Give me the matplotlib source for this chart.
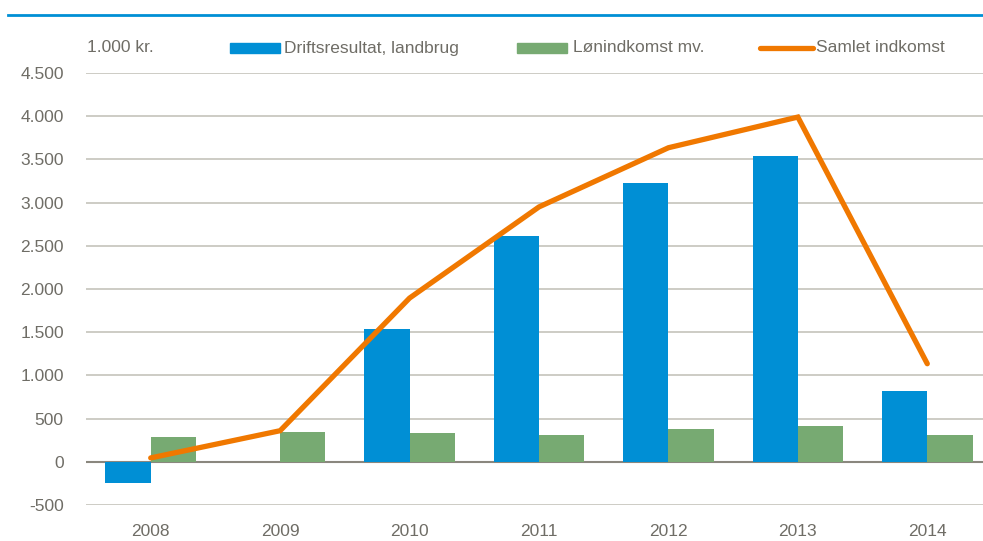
import matplotlib
matplotlib.use("Agg")
import matplotlib.pyplot as plt
from matplotlib.lines import Line2D
from matplotlib.patches import Rectangle

# ─── data (1.000 kr.) ─────────────────────────────────────────────
years      = ["2008", "2009", "2010", "2011", "2012", "2013", "2014"]
drift      = [-240, 0, 1540, 2615, 3230, 3540, 820]
loen       = [290, 350, 335, 315, 385, 420, 305]
samlet     = [45, 360, 1895, 2950, 3635, 3990, 1135]
y_ticks    = [-500, 0, 500, 1000, 1500, 2000, 2500, 3000, 3500, 4000, 4500]
y_labels   = ["-500", "0", "500", "1.000", "1.500", "2.000", "2.500",
              "3.000", "3.500", "4.000", "4.500"]

BLUE   = "#008fd5"
GREEN  = "#77aa72"
ORANGE = "#f07800"
TEXT   = "#6f6d66"
GRID   = "#c9c8c0"

plt.rcParams["font.family"] = ["Liberation Sans Narrow", "Liberation Sans", "DejaVu Sans"]

W, H = 983, 541
fig = plt.figure(figsize=(W / 100, H / 100), dpi=100)
ax = fig.add_axes([86 / W, (H - 505) / H, 906 / W, 432 / H])

x = list(range(len(years)))
bw = 0.35
ax.bar([i - bw / 2 for i in x], drift, width=bw, color=BLUE, edgecolor="none", zorder=2)
ax.bar([i + bw / 2 for i in x], loen, width=bw, color=GREEN, edgecolor="none", zorder=2)
ax.plot(x, samlet, color=ORANGE, linewidth=3.8, solid_capstyle="round",
        solid_joinstyle="miter", zorder=3)

ax.set_xlim(-0.5, len(years) - 0.5)
ax.set_ylim(-500, 4500)
ax.set_yticks(y_ticks)
ax.set_yticklabels(y_labels)
ax.set_xticks(x)
ax.set_xticklabels(years)
ax.tick_params(length=0, labelsize=12.5, colors=TEXT)
ax.tick_params(axis="y", pad=16)
ax.tick_params(axis="x", pad=14)
ax.yaxis.grid(True, color=GRID, linewidth=1.3, zorder=0)
ax.set_axisbelow(True)
ax.axhline(0, color="#8a877e", linewidth=1.5, zorder=1)
for s in ax.spines.values():
    s.set_visible(False)

# top rule (title cut off above)
fig.add_artist(Line2D([8 / W, 1], [1 - 15 / H, 1 - 15 / H], color=BLUE, linewidth=2))

# legend row
ly = 1 - 48 / H
fig.text(87 / W, ly, "1.000 kr.", fontsize=12.5, color=TEXT, va="center")
fig.add_artist(Rectangle((230 / W, ly - 5 / H), 50 / W, 10 / H, color=BLUE,
                         transform=fig.transFigure))
fig.text(284 / W, ly, "Driftsresultat, landbrug", fontsize=12.5, color=TEXT, va="center")
fig.add_artist(Rectangle((517 / W, ly - 5 / H), 50 / W, 10 / H, color=GREEN,
                         transform=fig.transFigure))
fig.text(573 / W, ly, "Lønindkomst mv.", fontsize=12.5, color=TEXT, va="center")
fig.add_artist(Line2D([760 / W, 813 / W], [ly, ly], color=ORANGE, linewidth=3.8,
                      solid_capstyle="round"))
fig.text(816 / W, ly, "Samlet indkomst", fontsize=12.5, color=TEXT, va="center")

fig.savefig("out.png", dpi=100)
